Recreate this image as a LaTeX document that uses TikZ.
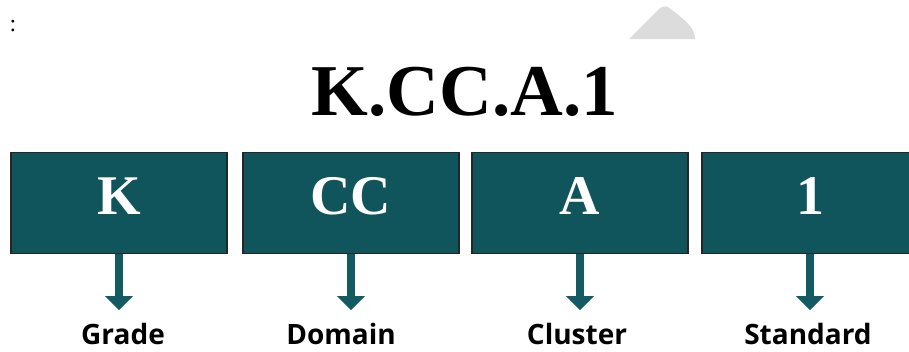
\documentclass[tikz,border=0pt]{standalone}
\usepackage{fontspec}
\setmainfont{Liberation Serif}
\newfontfamily\lblfont{Open Sans}
\usetikzlibrary{arrows.meta}

\definecolor{tealbox}{RGB}{16,84,92}
\definecolor{tealarr}{RGB}{20,90,98}
\definecolor{greyblob}{RGB}{220,220,220}

\tikzset{
  codebox/.style={draw=black!85, line width=1.4pt, fill=tealbox, text=white,
    minimum width=216pt, minimum height=101pt, inner sep=0pt,
    text height=38pt, text depth=16pt,
    font=\fontsize{56}{56}\selectfont\bfseries},
  partlbl/.style={font=\lblfont\fontsize{28}{28}\selectfont\bfseries, anchor=base},
  downarr/.style={draw=tealarr, line width=8pt, shorten >=9pt,
    -{Triangle[width=27pt,length=14pt]}}
}

\begin{document}
\begin{tikzpicture}[x=1pt,y=-1pt]

\useasboundingbox (0,0) rectangle (909,351);

%% stray marks at the top
\node[font=\fontsize{24}{24}\selectfont, anchor=base] (colon) at (13,31) {:};
\fill[greyblob] (629,39) -- (659,9) .. controls (663,5) and (668,6) .. (672,10)
  .. controls (685,20) and (695,28) .. (695,39) -- cycle;

%% title
\node[font=\fontsize{73}{73}\selectfont\bfseries, anchor=base] (title) at (465,115) {K.CC.A.1};

%% code parts
\node[codebox] (k)  at (119,203) {K};
\node[codebox] (cc) at (351,203) {CC};
\node[codebox] (a)  at (580,203) {A};
\node[codebox] (one) at (810,203) {1};

%% what they mean
\node[partlbl] (grade)    at (123,344) {Grade};
\node[partlbl] (domain)   at (341,344) {Domain};
\node[partlbl] (cluster)  at (577,344) {Cluster};
\node[partlbl] (standard) at (808,344) {Standard};

\draw[downarr] (k.south)   -- (k.south |- grade.north);
\draw[downarr] (cc.south)  -- (cc.south |- domain.north);
\draw[downarr] (a.south)   -- (a.south |- cluster.north);
\draw[downarr] (one.south) -- (one.south |- standard.north);

\end{tikzpicture}
\end{document}
